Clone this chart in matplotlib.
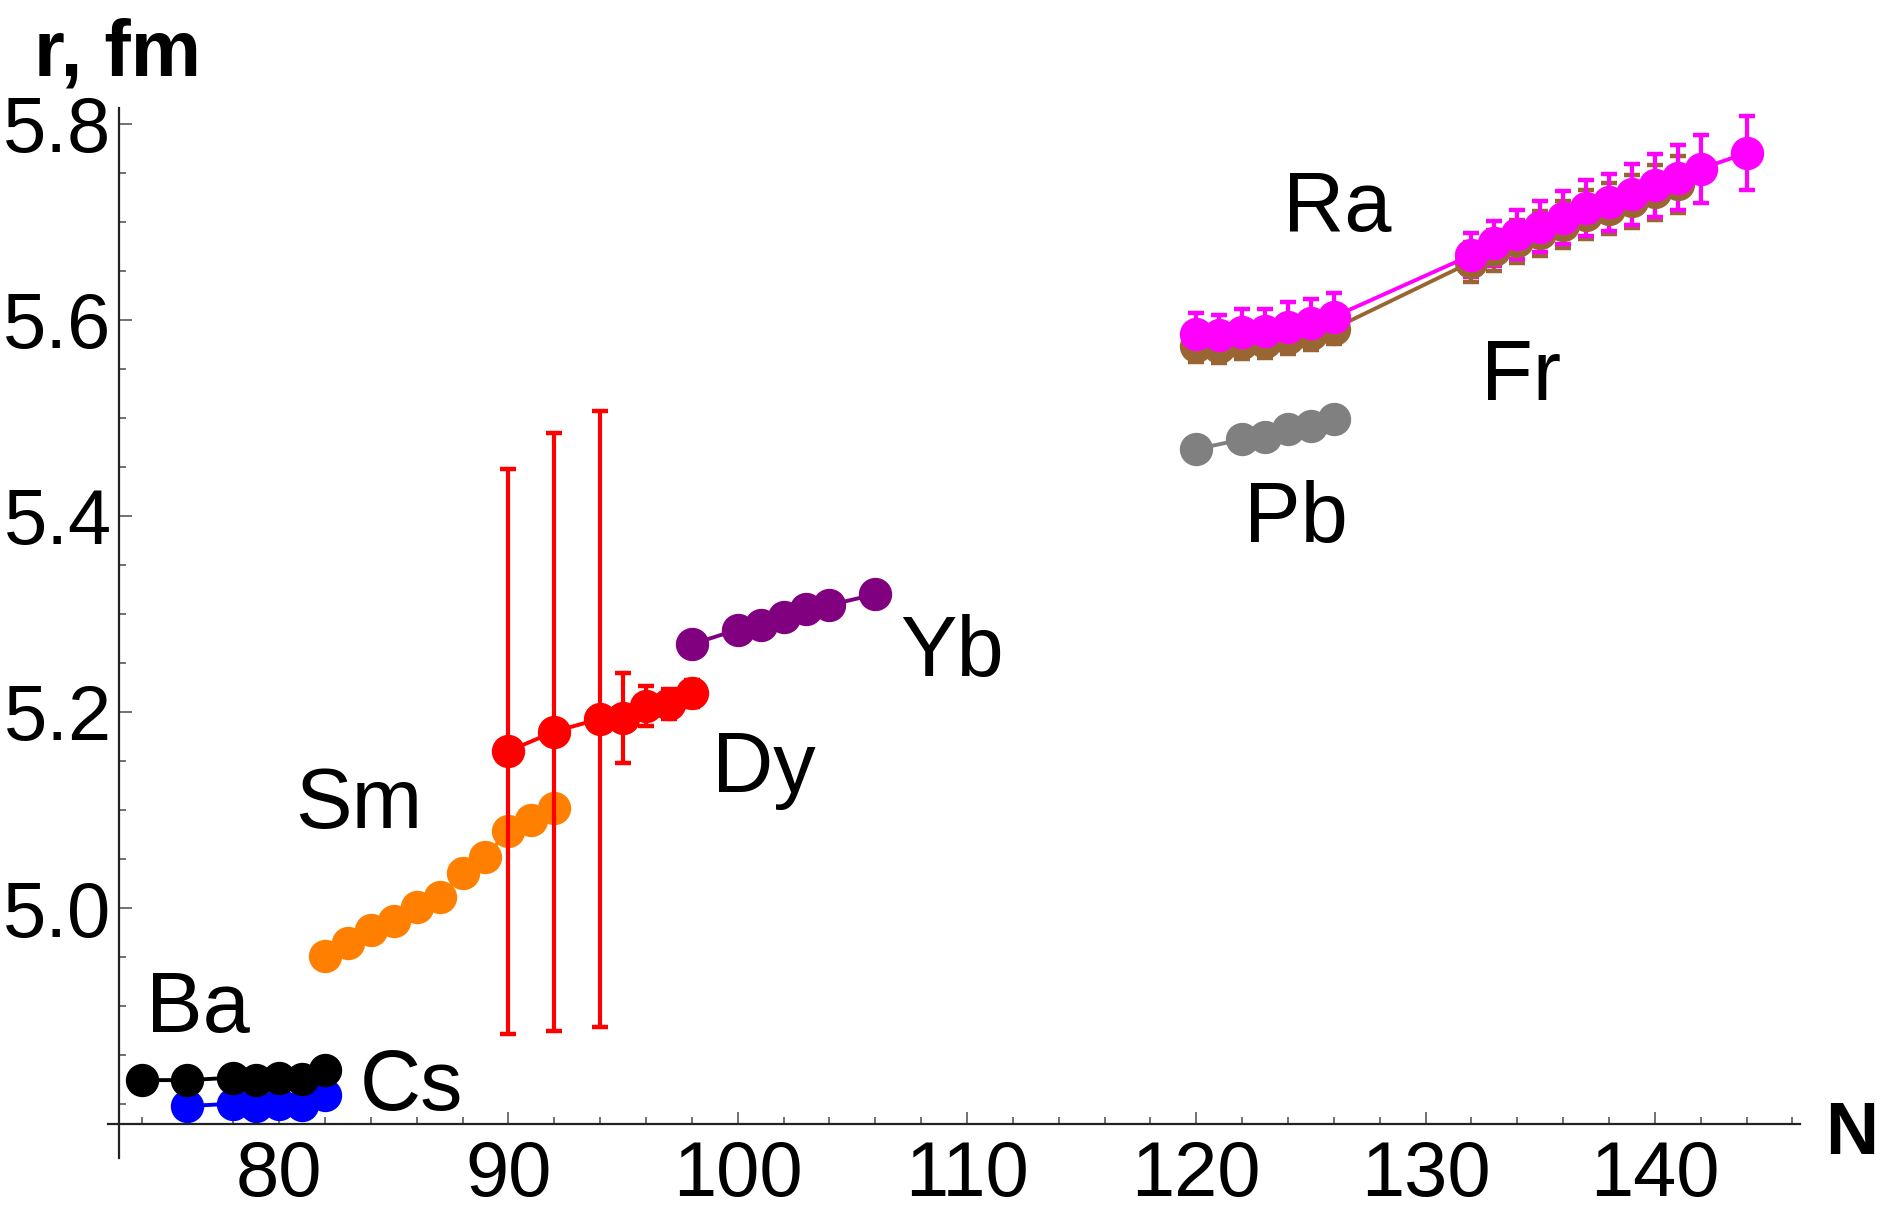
import matplotlib
matplotlib.use("Agg")
import matplotlib.pyplot as plt
from matplotlib.ticker import FixedLocator

plt.rcParams['font.family'] = ['Liberation Sans', 'DejaVu Sans']

# charge radii r (fm) vs neutron number N
ba_n = [74, 76, 78, 79, 80, 81, 82]
ba_r = [4.8245, 4.8245, 4.827, 4.825, 4.827, 4.826, 4.835]

cs_n = [76, 78, 79, 80, 81, 82]
cs_r = [4.798, 4.8005, 4.798, 4.8005, 4.799, 4.809]

sm_n = [82, 83, 84, 85, 86, 87, 88, 89, 90, 91, 92]
sm_r = [4.951, 4.964, 4.978, 4.987, 5.001, 5.011, 5.036, 5.052, 5.079, 5.090, 5.102]

dy_n = [90, 92, 94, 95, 96, 97, 98]
dy_r = [5.160, 5.180, 5.193, 5.194, 5.206, 5.208, 5.219]
dy_err = [0.288, 0.305, 0.314, 0.046, 0.020, 0.015, 0.014]

yb_n = [98, 100, 101, 102, 103, 104, 106]
yb_r = [5.269, 5.284, 5.289, 5.297, 5.305, 5.309, 5.320]

pb_n = [120, 122, 123, 124, 125, 126]
pb_r = [5.468, 5.478, 5.480, 5.4885, 5.492, 5.499]

fr_n = [120, 121, 122, 123, 124, 125, 126, 132, 133, 134, 135, 136, 137, 138, 139, 140, 141]
fr_r = [5.573, 5.572, 5.576, 5.577, 5.581, 5.585, 5.591,
        5.659, 5.671, 5.680, 5.688, 5.697, 5.707, 5.713, 5.721, 5.730, 5.738]
fr_err = [0.016, 0.016, 0.016, 0.016, 0.016, 0.016, 0.016,
          0.020, 0.021, 0.022, 0.023, 0.024, 0.025, 0.026, 0.027, 0.028, 0.029]

ra_n = [120, 121, 122, 123, 124, 125, 126, 132, 133, 134, 135, 136, 137, 138, 139, 140, 141, 142, 144]
ra_r = [5.585, 5.584, 5.588, 5.589, 5.593, 5.597, 5.603,
        5.666, 5.678, 5.687, 5.695, 5.704, 5.714, 5.720, 5.728, 5.737, 5.745, 5.754, 5.770]
ra_err = [0.022, 0.021, 0.023, 0.022, 0.025, 0.024, 0.024,
          0.022, 0.023, 0.025, 0.026, 0.027, 0.029, 0.029, 0.031, 0.032, 0.033, 0.0345, 0.038]

# element labels: (name, N, r) at left edge / baseline
labels = [("Ba", 74.2, 4.8735), ("Cs", 83.5, 4.794), ("Sm", 80.7, 5.082),
          ("Dy", 98.9, 5.118), ("Yb", 107.1, 5.237), ("Pb", 122.1, 5.373),
          ("Fr", 132.4, 5.518), ("Ra", 123.8, 5.691)]

fig = plt.figure(figsize=(18.82, 12.23), dpi=100)
fig.set_facecolor("white")
ax = fig.add_axes([0.0574, 0.0531, 0.899, 0.8586])

lw = 2.8
ms = 23
style = dict(marker="o", ms=ms, lw=lw, clip_on=False)
ebar = dict(capsize=5.5, elinewidth=3.0, capthick=3.2)

ax.plot(cs_n, cs_r, color="#0000ff", **style)
ax.plot(ba_n, ba_r, color="black", **style)
ax.plot(sm_n, sm_r, color="#ff8000", **style)
ax.errorbar(dy_n, dy_r, yerr=dy_err, color="#ff0000", **style, **ebar)
ax.plot(yb_n, yb_r, color="#800080", **style)
ax.plot(pb_n, pb_r, color="#808080", **style)
ax.errorbar(fr_n, fr_r, yerr=fr_err, color="#996633", **style, **ebar)
ax.errorbar(ra_n, ra_r, yerr=ra_err, color="#ff00ff", **style, **ebar)

for name, x, y in labels:
    ax.text(x, y, name, fontsize=61, ha="left", va="baseline")

# Mathematica-like crossing axes
ax.set_xlim(72.54, 146.33)
ax.set_ylim(4.745, 5.816)
for s in ["top", "right"]:
    ax.spines[s].set_visible(False)
ax.spines["left"].set_position(("data", 73))
ax.spines["bottom"].set_position(("data", 4.78))
for s in ["left", "bottom"]:
    ax.spines[s].set_linewidth(1.6)
    ax.spines[s].set_color("#222222")

ax.set_xticks([80, 90, 100, 110, 120, 130, 140])
ax.xaxis.set_minor_locator(FixedLocator([74, 76, 78, 82, 84, 86, 88, 92, 94, 96, 98,
                                         102, 104, 106, 108, 112, 114, 116, 118,
                                         122, 124, 126, 128, 132, 134, 136, 138,
                                         142, 144, 146]))
ax.set_yticks([5.0, 5.2, 5.4, 5.6, 5.8])
ax.set_yticklabels(["5.0", "5.2", "5.4", "5.6", "5.8"])
ax.yaxis.set_minor_locator(FixedLocator([4.80, 4.85, 4.90, 4.95, 5.05, 5.10, 5.15,
                                         5.25, 5.30, 5.35, 5.45, 5.50, 5.55,
                                         5.65, 5.70, 5.75]))
ax.tick_params(which="both", direction="in", color="#666666", width=1.3)
ax.tick_params(which="major", length=9, labelsize=56)
ax.tick_params(which="minor", length=5)
ax.tick_params(axis="x", which="major", pad=11)
ax.tick_params(axis="y", which="major", pad=5)

fig.text(0.018, 0.938, "r, fm", fontsize=57, fontweight="bold", ha="left", va="baseline")
fig.text(0.970, 0.0564, "N", fontsize=53, fontweight="bold", ha="left", va="baseline")

fig.savefig("out.png", dpi=100, facecolor="white")
plt.close(fig)
